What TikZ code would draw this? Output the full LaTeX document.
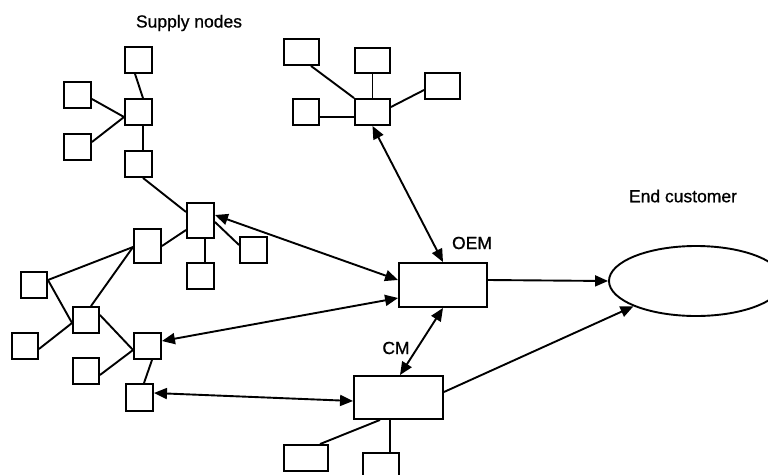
\documentclass[tikz,border=0pt]{standalone}
\usepackage{fontspec}
\setmainfont{Liberation Sans}
\newfontface\lblface{Liberation Sans}[FakeBold=0.8]
\usetikzlibrary{arrows.meta,shapes.geometric,calc}

\tikzset{
  box/.style={draw, line width=1.9pt, fill=white, inner sep=0pt, minimum width=27pt, minimum height=26pt},
  link/.style={line width=1.9pt},
  flow/.style={line width=1.9pt, {Triangle[length=13pt,width=11pt]}-{Triangle[length=13pt,width=11pt]}},
  oneway/.style={line width=1.9pt, -{Triangle[length=13pt,width=11pt]}},
  lbl/.style={inner sep=0pt, font=\lblface\fontsize{17.5}{20}\selectfont}
}

\begin{document}
\begin{tikzpicture}[x=1pt, y=-1pt]
\useasboundingbox (0,0) rectangle (768,474);
\clip (0,0) rectangle (768,474);

% labels
\node[lbl] (tsupply) at (189,23) {Supply nodes};
\node[lbl] (toem) at (472,243) {OEM};
\node[lbl] (tcm) at (396,348) {CM};
\node[lbl] (tend) at (683,196) {End customer};

% upper-left supplier tree
\node[box] (a1) at (138.5,60) {};
\node[box] (a2) at (138.5,112) {};
\node[box] (a3) at (77.5,95) {};
\node[box] (a4) at (77.5,147) {};
\node[box] (a5) at (138.5,164) {};

% middle supplier cluster
\node[box, minimum height=35pt] (b1) at (200.5,220.5) {};
\node[box, minimum height=34pt] (b2) at (147.5,246) {};
\node[box] (b3) at (200.5,276) {};
\node[box] (b4) at (253.5,250) {};

% lower-left supplier cluster
\node[box, minimum width=26pt] (c1) at (34,285) {};
\node[box, minimum width=26pt] (c2) at (86,320) {};
\node[box, minimum width=26pt] (c3) at (25,346) {};
\node[box] (d1) at (147.5,346) {};
\node[box, minimum width=26pt] (d2) at (86,371) {};
\node[box, minimum height=27pt] (d3) at (139.5,397.5) {};

% upper supplier tree feeding the OEM
\node[box, minimum width=35pt] (e0) at (372.5,112) {};
\node[box, minimum width=35pt] (e1) at (301.5,52) {};
\node[box, minimum width=35pt, minimum height=25pt] (e2) at (372.5,60.5) {};
\node[box, minimum width=35pt] (e3) at (442.5,86) {};
\node[box, minimum width=26pt] (e4) at (306,112) {};

% OEM, CM and their suppliers
\node[box, minimum width=88pt, minimum height=44pt] (oem) at (443,285) {};
\node[box, minimum width=89pt, minimum height=43pt] (cm) at (398.5,397.5) {};
\node[box, minimum width=44pt] (f1) at (306,458) {};
\node[box, minimum width=36pt, minimum height=28pt] (f2) at (381,467) {};

% end customer
\node[draw, ellipse, line width=1.9pt, inner sep=0pt, minimum width=174pt, minimum height=70pt] (ell) at (696,281) {};

% tree links
\draw[link] ($(a1.south)+(-3.5,0)$) -- ($(a2.north)+(4.5,0)$);
\draw[link] ($(a3.east)+(0,4)$) -- ($(a2.west)+(0,5)$);
\draw[link] ($(a4.east)+(0,-5)$) -- ($(a2.west)+(0,5)$);
\draw[link] ($(a2.south)+(4.5,0)$) -- ($(a5.north)+(4.5,0)$);
\draw[link] ($(a5.south)+(4.5,0)$) -- ($(b1.west)+(0,-8.5)$);
\draw[link] (b2.east) -- ($(b1.west)+(0,9.5)$);
\draw[link] ($(b1.south)+(4.5,0)$) -- ($(b3.north)+(4.5,0)$);
\draw[link] ($(b1.east)+(0,1.5)$) -- ($(b4.west)+(0,-5)$);
\draw[link] ($(c1.east)+(0,-5)$) -- ($(b2.west)+(0,1)$);
\draw[link] ($(b2.west)+(0,1)$) -- ($(c2.north)+(5,0)$);
\draw[link] ($(c1.east)+(0,-5)$) -- ($(c2.west)+(0,3)$);
\draw[link] ($(c3.east)+(0,3)$) -- ($(c2.west)+(0,3)$);
\draw[link] ($(c2.east)+(0,-5)$) -- ($(d1.west)+(0,4)$);
\draw[link] ($(d2.east)+(0,4)$) -- ($(d1.west)+(0,4)$);
\draw[link] ($(d1.south)+(4.5,0)$) -- ($(d3.north)+(4.5,0)$);
\draw[link] ($(e1.south)+(9.5,0)$) -- (e0.north west);
\draw[link] (e2.south) -- (e0.north);
\draw[link] ($(e3.west)+(0,4)$) -- ($(e0.east)+(0,-5)$);
\draw[link] ($(e4.east)+(0,5)$) -- ($(e0.west)+(0,5)$);
\draw[link] ($(cm.south)+(-18.5,0)$) -- ($(f1.north)+(14,0)$);
\draw[link] ($(cm.south)+(-8.5,0)$) -- ($(f2.north)+(9,0)$);

% material flows
\draw[flow] ($(b1.east)+(0,-5.5)$) -- ($(oem.west)+(0,-5)$);
\draw[flow] ($(d1.east)+(0,-5)$) -- ($(oem.west)+(0,13)$);
\draw[flow] (e0.south) -- (oem.north);
\draw[flow] (oem.south) -- ($(cm.north)+(1.5,0)$);
\draw[flow] ($(d3.east)+(0,-4.5)$) -- ($(cm.west)+(0,3.5)$);
\draw[oneway] ($(oem.east)+(0,-5)$) -- (ell.west);
\draw[oneway] ($(cm.east)+(0,-5.5)$) -- (ell.202);
\end{tikzpicture}
\end{document}
